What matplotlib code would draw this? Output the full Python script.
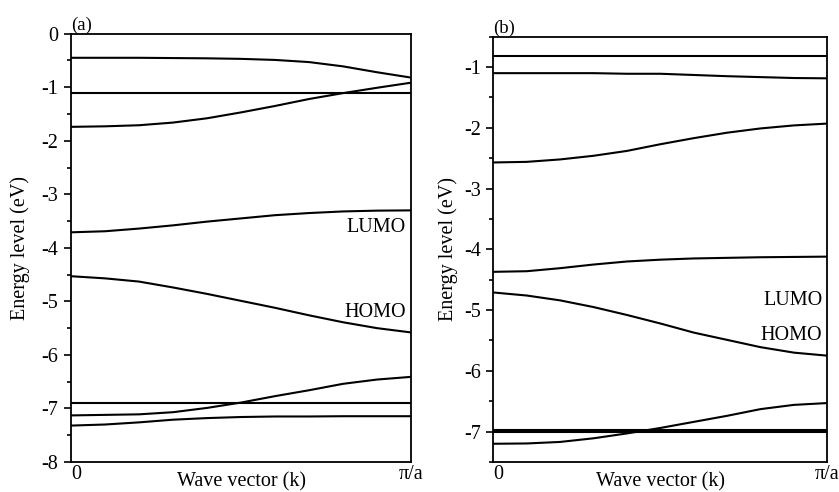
import numpy as np
import matplotlib
matplotlib.use("Agg")
import matplotlib.pyplot as plt
from matplotlib.ticker import MultipleLocator, FuncFormatter

plt.rcParams['font.family'] = ['Liberation Serif', 'DejaVu Serif']

# wave vector in units of pi/a
k = np.linspace(0, 1, 11)

# panel (a) bands, eV
a_band1 = [-0.45, -0.45, -0.45, -0.455, -0.46, -0.47, -0.49, -0.53, -0.61, -0.72, -0.82]
a_band2 = [-1.10] * 11
a_band3 = [-1.74, -1.73, -1.71, -1.66, -1.58, -1.47, -1.35, -1.22, -1.11, -1.01, -0.915]
a_lumo = [-3.71, -3.69, -3.64, -3.58, -3.51, -3.45, -3.39, -3.35, -3.32, -3.305, -3.30]
a_homo = [-4.53, -4.57, -4.63, -4.74, -4.86, -4.99, -5.12, -5.26, -5.39, -5.50, -5.58]
a_band6 = [-7.13, -7.12, -7.11, -7.07, -6.99, -6.89, -6.77, -6.66, -6.54, -6.46, -6.41]
a_band7 = [-6.90] * 11
a_band8 = [-7.32, -7.30, -7.26, -7.21, -7.18, -7.16, -7.15, -7.15, -7.145, -7.145, -7.145]

# panel (b) bands, eV
b_band1 = [-0.82] * 11
b_band2 = [-1.10, -1.10, -1.10, -1.10, -1.11, -1.11, -1.13, -1.15, -1.165, -1.18, -1.185]
b_band3 = [-2.57, -2.56, -2.52, -2.46, -2.38, -2.27, -2.17, -2.08, -2.01, -1.96, -1.93]
b_lumo = [-4.37, -4.36, -4.31, -4.25, -4.20, -4.17, -4.15, -4.14, -4.13, -4.125, -4.12]
b_homo = [-4.71, -4.76, -4.84, -4.95, -5.08, -5.22, -5.37, -5.49, -5.61, -5.70, -5.75]
b_band6 = [-7.20, -7.195, -7.17, -7.11, -7.03, -6.94, -6.84, -6.74, -6.63, -6.56, -6.53]
b_band7 = [-6.975] * 11
b_band8 = [-7.0] * 11

a_bands = [a_band1, a_band2, a_band3, a_lumo, a_homo, a_band6, a_band7, a_band8]
b_bands = [b_band1, b_band2, b_band3, b_lumo, b_homo, b_band6, b_band7, b_band8]

FS = 14.5

fig = plt.figure(figsize=(8.39, 4.92), dpi=100)
axa = fig.add_axes([0.0846, 0.061, 0.4053, 0.8705])
axb = fig.add_axes([0.588, 0.061, 0.398, 0.8644])


def style(ax, ylim, tag, ylab_x):
    ax.set_xlim(0, 1)
    ax.set_ylim(*ylim)
    ax.set_xticks([0, 1])
    ax.set_xticklabels(['0', 'π/a'])
    ax.xaxis.get_majorticklabels()[0].set_horizontalalignment('left')
    ax.tick_params(axis='x', length=0, pad=2, labelsize=FS)
    ax.yaxis.set_major_locator(MultipleLocator(1))
    ax.yaxis.set_minor_locator(MultipleLocator(0.5))
    ax.yaxis.set_major_formatter(FuncFormatter(lambda v, p: '%d' % v))
    ax.tick_params(axis='y', which='major', direction='out', length=5, width=1.2, labelsize=FS, pad=4)
    ax.tick_params(axis='y', which='minor', direction='out', length=3, width=1.2)
    for s in ax.spines.values():
        s.set_linewidth(1.3)
    ax.set_ylabel('Energy level (eV)', fontsize=FS)
    ax.yaxis.set_label_coords(ylab_x, 0.5)
    ax.set_xlabel('Wave vector (k)', fontsize=FS)
    ax.xaxis.set_label_coords(0.5, -0.024)
    ax.text(0.0, 1.0, tag, transform=ax.transAxes, fontsize=FS - 1, va='bottom', ha='left')


for b in a_bands:
    axa.plot(k, b, color='black', lw=1.5)
for b in b_bands:
    axb.plot(k, b, color='black', lw=1.5)

style(axa, (-8, 0), '(a)', -0.12)
style(axb, (-7.5, -0.5), '(b)', -0.105)

axa.text(0.985, -3.62, 'LUMO', fontsize=FS, ha='right', va='center')
axa.text(0.985, -5.2, 'HOMO', fontsize=FS, ha='right', va='center')
axb.text(0.985, -4.85, 'LUMO', fontsize=FS, ha='right', va='center')
axb.text(0.985, -5.42, 'HOMO', fontsize=FS, ha='right', va='center')

fig.savefig('out.png', dpi=100)
